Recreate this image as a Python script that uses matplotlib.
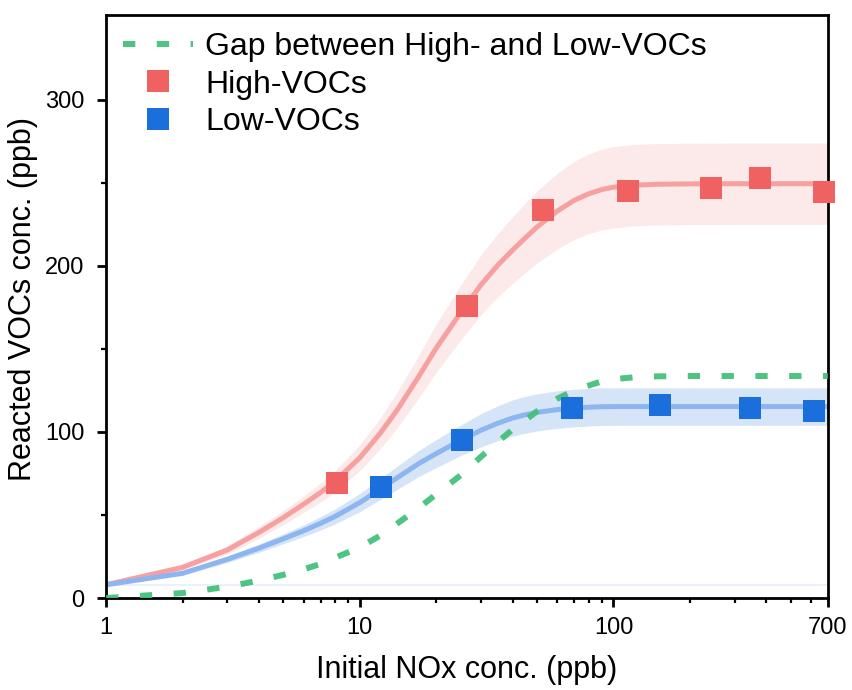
import matplotlib
matplotlib.use("Agg")
import matplotlib.pyplot as plt
from matplotlib.ticker import FixedLocator, NullFormatter, FixedFormatter

plt.rcParams['font.family'] = ['Liberation Sans', 'DejaVu Sans']

# Fitted curves
curve_x = [1, 2, 3, 4, 5, 6, 7, 8, 10, 12, 14, 17, 20, 25, 30, 35, 40, 45, 50, 60, 70, 80, 90,
           100, 120, 150, 200, 300, 700]
high_fit = [8, 18.5, 28.9, 39.5, 48.5, 56.5, 63.5, 70.5, 84.5, 99, 113, 133, 150.5, 172, 188.5,
            200.5, 209.5, 217, 223.5, 233, 239.5, 243.5, 246, 247.4, 248.6, 249.2, 249.4, 249.5, 249.5]
high_band_half = [0.6, 1.5, 2.5, 3.5, 4.3, 5, 5.7, 6.3, 7.8, 9.2, 10.7, 12.8, 14.5, 16.5, 18, 19,
                  20, 21, 21.7, 22.8, 23.5, 24, 24.3, 24.5, 24.5, 24.5, 24.5, 24.5, 24.5]
low_fit = [8, 14.9, 23.3, 30, 35.7, 40.5, 45, 49.2, 57.5, 65.5, 72.3, 80.8, 87, 95, 101, 105.3,
           108.4, 110.4, 111.8, 113.5, 114.4, 114.9, 115.2, 115.3, 115.3, 115.3, 115.3, 115.3, 115.3]
low_band_half = [0.6, 1.2, 1.9, 2.5, 3, 3.5, 4, 4.5, 5.5, 6.3, 7, 7.8, 8.4, 9.2, 10, 10.5, 10.9,
                 11.1, 11.2, 11.3, 11.3, 11.3, 11.3, 11.3, 11.3, 11.3, 11.3, 11.3, 11.3]
gap_fit = [0, 3, 6.8, 10.5, 14, 17.3, 20.5, 24.3, 30.5, 37.5, 44.7, 54, 62.5, 74, 85, 94, 101.5,
           107.2, 112.5, 120, 125, 128, 130.5, 131.8, 132.9, 133.5, 133.7, 133.7, 133.7]

# Measured points
high_x = [8.1, 26.5, 52.9, 114.6, 241.8, 377, 676]
high_y = [69, 176, 233.5, 245, 247, 253, 244.5]
low_x = [12.1, 25.3, 68.9, 153, 345, 617]
low_y = [67, 95, 114.5, 116.3, 114.5, 112.7]

x_ticks = [1, 10, 100, 700]
x_tick_labels = ['1', '10', '100', '700']
y_ticks = [0, 100, 200, 300]
y_minor = [50, 150, 250]

high_lo = [f - h for f, h in zip(high_fit, high_band_half)]
high_hi = [f + h for f, h in zip(high_fit, high_band_half)]
low_lo = [f - h for f, h in zip(low_fit, low_band_half)]
low_hi = [f + h for f, h in zip(low_fit, low_band_half)]

fig = plt.figure(figsize=(8.53, 6.90), dpi=100)
ax = fig.add_axes([0.1245, 0.1333, 0.846, 0.8447])

ax.axhline(8, color='#E6EFFB', lw=1.2, zorder=1)
ax.fill_between(curve_x, high_lo, high_hi, color='#FCE9E9', lw=0, zorder=1)
ax.fill_between(curve_x, low_lo, low_hi, color='#D6E4F8', lw=0, zorder=1)
ax.plot(curve_x, high_fit, color='#F6A0A0', lw=3.6, zorder=2, solid_capstyle='butt')
ax.plot(curve_x, low_fit, color='#8DB6F0', lw=3.6, zorder=2, solid_capstyle='butt')
ax.plot(curve_x, gap_fit, color='#45C07A', lw=4.3, ls=(0, (2.06, 3.6)), zorder=3,
        label='Gap between High- and Low-VOCs', alpha=0.95)
ax.plot(high_x, high_y, 's', color='#F06262', ms=16, mew=0, ls='none', zorder=4,
        label='High-VOCs', clip_on=False)
ax.plot(low_x, low_y, 's', color='#1A6FDD', ms=16, mew=0, ls='none', zorder=4,
        label='Low-VOCs', clip_on=False)

ax.set_xscale('log')
ax.set_xlim(1, 700)
ax.set_ylim(0, 351)
ax.xaxis.set_major_locator(FixedLocator(x_ticks))
ax.xaxis.set_major_formatter(FixedFormatter(x_tick_labels))
minor = [m * d for d in (1, 10, 100) for m in range(2, 10) if m * d < 700]
ax.xaxis.set_minor_locator(FixedLocator(minor))
ax.xaxis.set_minor_formatter(NullFormatter())
ax.yaxis.set_major_locator(FixedLocator(y_ticks))
ax.yaxis.set_minor_locator(FixedLocator(y_minor))

for s in ax.spines.values():
    s.set_linewidth(2.0)
ax.tick_params(which='major', direction='out', length=6.5, width=2.0, labelsize=17)
ax.tick_params(axis='x', which='major', pad=7)
ax.tick_params(axis='y', which='major', pad=9)
ax.tick_params(which='minor', direction='out', length=3.8, width=1.6)

ax.set_xlabel('Initial NOx conc. (ppb)', fontsize=22, labelpad=12)
ax.set_ylabel('Reacted VOCs conc. (ppb)', fontsize=22)
ax.yaxis.set_label_coords(-0.094, 0.513)

leg = ax.legend(loc='upper left', frameon=False, fontsize=23, handlelength=2.19,
                handletextpad=0.376, labelspacing=0.23, borderpad=0.2, borderaxespad=0.333,
                markerscale=1.0)

fig.savefig('out.png', dpi=100)
